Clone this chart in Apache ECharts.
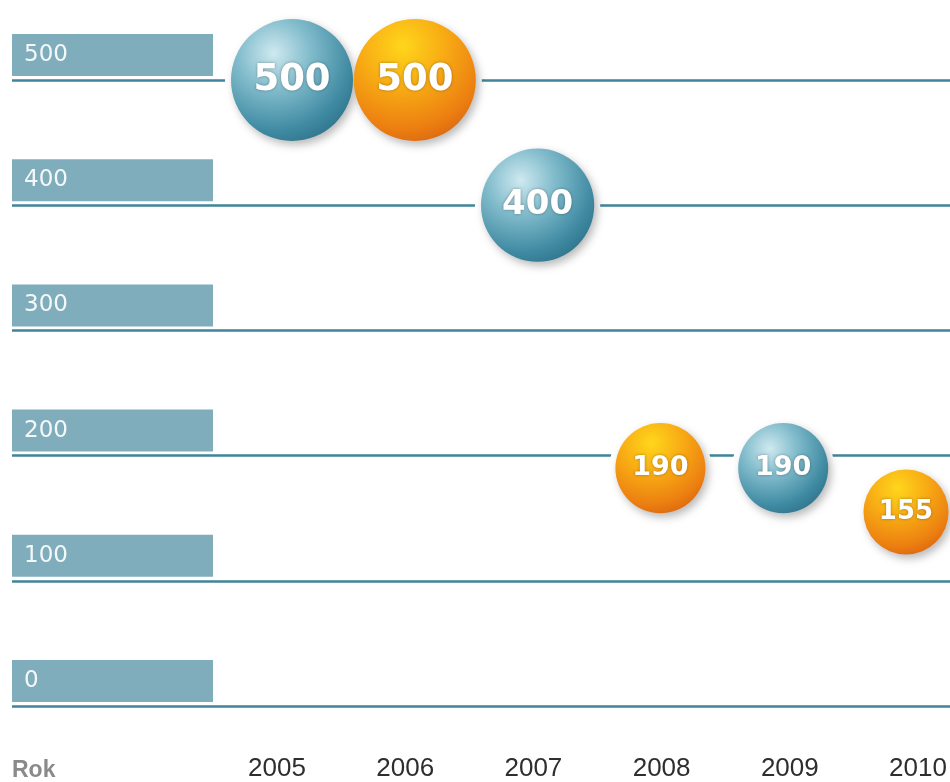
<!DOCTYPE html>
<html>
<head>
<meta charset="utf-8">
<script src="https://cdn.jsdelivr.net/npm/echarts@6/dist/echarts.min.js"></script>
<style>
  html, body { margin: 0; padding: 0; background: #fff; }
  #chart { width: 950px; height: 782px; }
</style>
</head>
<body>
<div id="chart"></div>
<script>
var years = ['2005', '2006', '2007', '2008', '2009', '2010'];
var values = [500, 500, 400, 190, 190, 155];
var yTicks = [0, 100, 200, 300, 400, 500];

var BLUE = {
    type: 'radial', x: 0.35, y: 0.28, r: 0.85,
    colorStops: [
        {offset: 0, color: '#cfe9f0'},
        {offset: 0.35, color: '#82bccc'},
        {offset: 0.75, color: '#3f8aa2'},
        {offset: 1, color: '#2a6d84'}
    ]
};
var ORANGE = {
    type: 'radial', x: 0.4, y: 0.22, r: 0.85,
    colorStops: [
        {offset: 0, color: '#ffd61c'},
        {offset: 0.4, color: '#f8ac14'},
        {offset: 0.8, color: '#ec7f11'},
        {offset: 1, color: '#d9640f'}
    ]
};

// bubble diameter grows with the value
function bubbleSize(v) {
    return 38.6 + 3.73 * Math.sqrt(v);
}

var bubbles = values.map(function (v, i) {
    return {
        value: v,
        symbolSize: bubbleSize(v),
        itemStyle: {color: i % 2 ? ORANGE : BLUE},
        label: {fontSize: Math.round(bubbleSize(v) * 0.3)}
    };
});
var halos = values.map(function (v) {
    return {value: v, symbolSize: bubbleSize(v) + 12};
});

var myChart = echarts.init(document.getElementById('chart'));
var option = {
    animation: false,
    title: {
        text: 'Rok',
        left: 7,
        top: 754,
        textStyle: {color: '#8a8a8a', fontSize: 23, fontWeight: 'bold', fontFamily: 'Liberation Sans'}
    },
    grid: [
        {left: 12, right: 0, top: 80, bottom: 76},
        {left: 292, right: 44, top: 80, bottom: 76},
        {left: 277, right: 32, top: 80, bottom: 76}
    ],
    xAxis: [
        {gridIndex: 0, type: 'value', min: 0, max: 1, show: false},
        {gridIndex: 1, type: 'category', data: years, boundaryGap: false, show: false},
        {
            gridIndex: 2, type: 'category', data: years, boundaryGap: false,
            axisLine: {show: false}, axisTick: {show: false},
            axisLabel: {
                margin: 51, color: '#2e2e2e', fontSize: 26, fontFamily: 'Liberation Sans'
            }
        }
    ],
    yAxis: [
        {
            gridIndex: 0, type: 'value', min: yTicks[0], max: yTicks[yTicks.length - 1], interval: 100,
            axisLine: {show: false}, axisTick: {show: false},
            splitLine: {lineStyle: {color: '#3f8499', width: 2.5}},
            axisLabel: {
                inside: true,
                margin: 0,
                verticalAlign: 'bottom',
                padding: [0, 0, 4, 0],
                formatter: function (v) { return '{box|' + v + '}'; },
                rich: {
                    box: {
                        backgroundColor: '#80adbc',
                        width: 189,
                        height: 42,
                        lineHeight: 42,
                        padding: [0, 0, 0, 12],
                        color: '#f4f8f9',
                        fontSize: 23,
                        fontFamily: 'DejaVu Sans'
                    }
                }
            }
        },
        {gridIndex: 1, type: 'value', min: 0, max: 500, show: false},
        {gridIndex: 2, type: 'value', min: 0, max: 500, show: false}
    ],
    series: [
        {
            type: 'scatter',
            xAxisIndex: 1, yAxisIndex: 1,
            data: halos,
            itemStyle: {color: '#fff', opacity: 1},
            silent: true
        },
        {
            type: 'scatter',
            xAxisIndex: 1, yAxisIndex: 1,
            data: bubbles,
            itemStyle: {
                opacity: 1,
                shadowBlur: 8,
                shadowColor: 'rgba(0,0,0,0.28)',
                shadowOffsetX: 3,
                shadowOffsetY: 4
            },
            label: {
                show: true,
                position: 'inside',
                formatter: '{c}',
                color: '#fff',
                fontWeight: 'bold',
                fontFamily: 'DejaVu Sans',
                textShadowColor: 'rgba(0,0,0,0.35)',
                textShadowBlur: 3
            }
        }
    ]
};
myChart.setOption(option);
</script>
</body>
</html>
